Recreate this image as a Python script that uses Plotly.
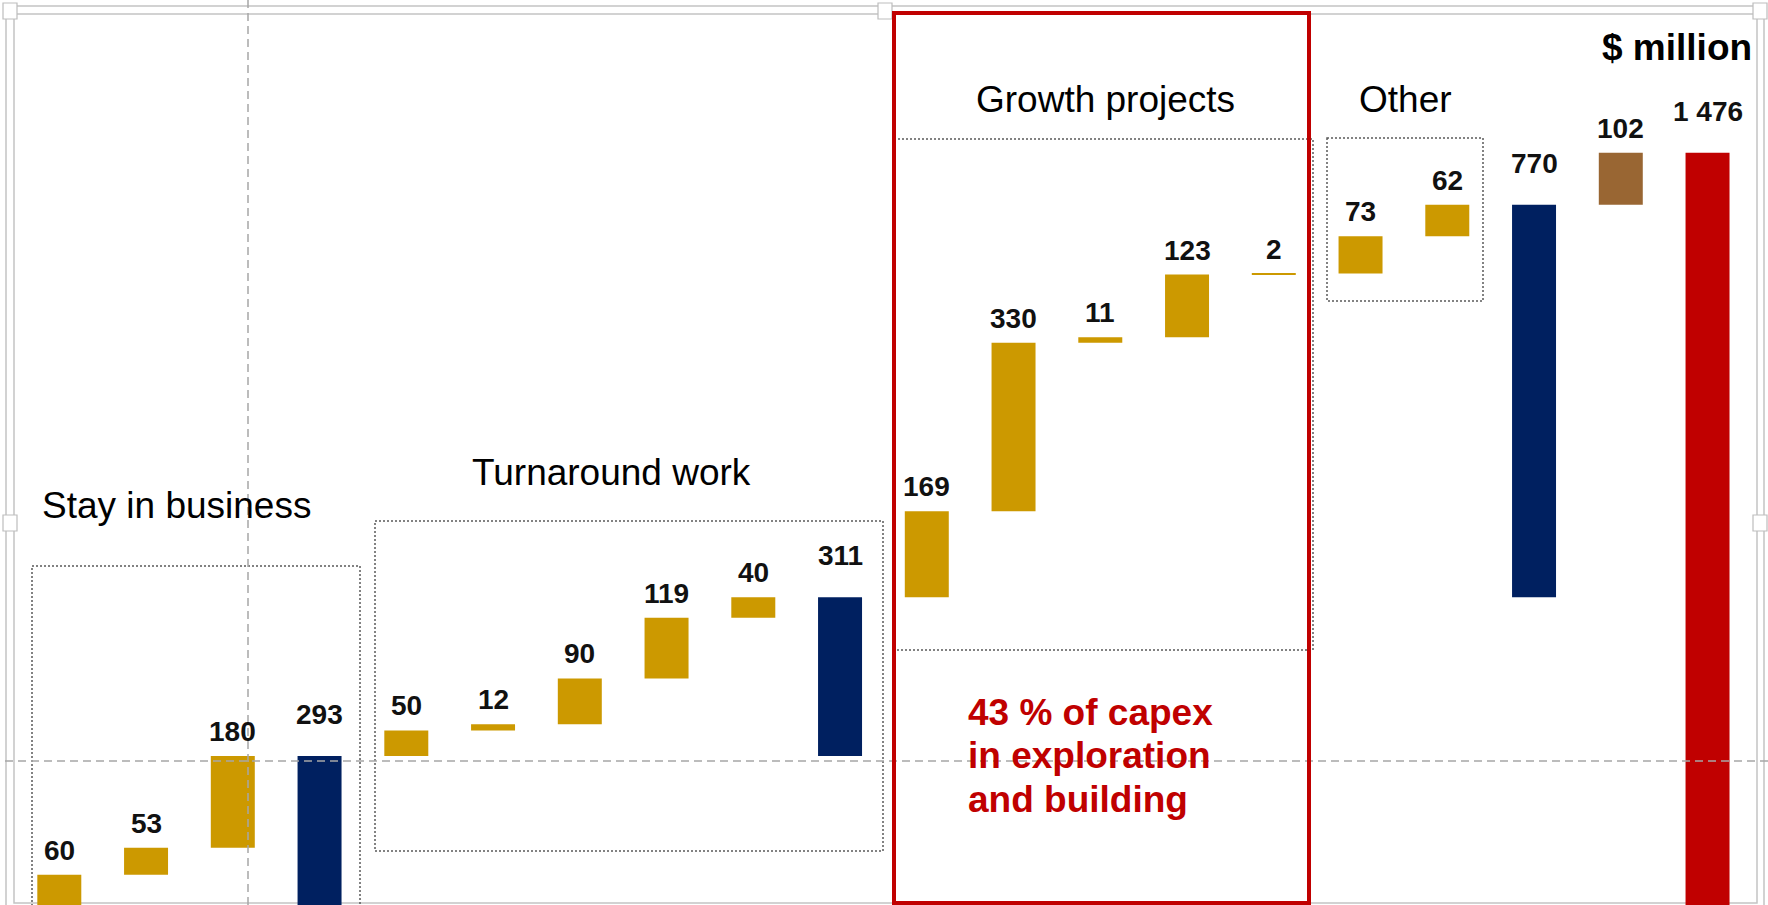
import plotly.graph_objects as go

# Capex breakdown, $ million (waterfall)
values = [60, 53, 180, 293, 50, 12, 90, 119, 40, 311, 169, 330, 11, 123, 2, 73, 62, 770, 102, 1476]
kinds = ["step", "step", "step", "sub",
         "step", "step", "step", "step", "step", "sub",
         "step", "step", "step", "step", "step",
         "step", "step", "sub", "adj", "total"]
group_titles = ["Stay in business", "Turnaround work", "Growth projects", "Other"]
note_lines = ["43 % of capex", "in exploration", "and building"]
unit_label = "$ million"

W, H = 1768, 905
FONT = "Liberation Sans, Arial, sans-serif"
colors = {"step": "#CC9900", "sub": "#002060", "adj": "#996633", "total": "#C00000"}


def fx(px):
    return px / W


def fy(py):
    return 1 - py / H


# floating bases: steps stack up, subtotals span their group, total from zero
bases = []
running = 0
for v, k in zip(values, kinds):
    if k in ("step", "adj"):
        bases.append(running)
        running += v
    elif k == "sub":
        bases.append(running - v)
    else:
        bases.append(0)

x = list(range(len(values)))

fig = go.Figure(go.Bar(
    x=x, y=values, base=bases, width=0.507,
    marker=dict(color=[colors[k] for k in kinds], line=dict(width=0)),
    hoverinfo="skip",
))

# value labels above each bar
for i, (v, b, k) in enumerate(zip(values, bases, kinds)):
    fig.add_annotation(
        x=i, y=b + v, xref="x", yref="y",
        text=f"{v:,}".replace(",", " "),
        showarrow=False, yanchor="bottom",
        yshift=24 if k in ("sub", "total") else 7,
        font=dict(family=FONT, size=28, color="#111111", weight="bold"),
    )

shapes = []

# slide frame (selection border) and handles
for x0, y0, x1, y1 in [(6, 6, 1764, 911), (14, 14, 1757, 903)]:
    shapes.append(dict(type="rect", xref="paper", yref="paper",
                       x0=fx(x0), y0=fy(y0), x1=fx(x1), y1=fy(y1),
                       line=dict(color="#C4C4C4", width=1.5), layer="below"))
for cx, cy in [(10, 11), (885, 11), (1760, 11), (10, 523), (1760, 523)]:
    shapes.append(dict(type="rect", xref="paper", yref="paper",
                       x0=fx(cx - 7), y0=fy(cy - 8), x1=fx(cx + 7), y1=fy(cy + 8),
                       line=dict(color="#BDBDBD", width=1.2), fillcolor="white"))

# group boxes (dotted)
for x0, y0, x1, y1 in [(32, 566, 360, 906), (375, 521, 883, 851),
                       (894, 139, 1313, 650), (1327, 138, 1483, 301)]:
    shapes.append(dict(type="rect", xref="paper", yref="paper",
                       x0=fx(x0), y0=fy(y0), x1=fx(x1), y1=fy(y1),
                       line=dict(color="#595959", width=1.5, dash="2px,2px")))

# guides
guide = dict(color="#A6A6A6", width=1.5, dash="8px,5px")
shapes.append(dict(type="line", xref="paper", yref="paper",
                   x0=fx(248), x1=fx(248), y0=0, y1=1, line=guide))
shapes.append(dict(type="line", xref="paper", yref="paper",
                   x0=fx(5), x1=1, y0=fy(761), y1=fy(761), line=guide))

# red highlight box around growth projects
shapes.append(dict(type="rect", xref="paper", yref="paper",
                   x0=fx(894), y0=fy(13), x1=fx(1309), y1=fy(903),
                   line=dict(color="#C00000", width=4)))

# group titles
title_pos = [(40, 505), (470, 472), (974, 100), (1357, 100)]
for txt, (tx, ty) in zip(group_titles, title_pos):
    fig.add_annotation(x=fx(tx), y=fy(ty), xref="paper", yref="paper",
                       text=txt, showarrow=False, xanchor="left", yanchor="middle",
                       font=dict(family=FONT, size=37, color="black"))

fig.add_annotation(x=fx(1754), y=fy(47), xref="paper", yref="paper",
                   text=unit_label, showarrow=False, xanchor="right", yanchor="middle",
                   font=dict(family=FONT, size=37, color="black", weight="bold"))

for j, line in enumerate(note_lines):
    fig.add_annotation(x=fx(966), y=fy(712 + 43.5 * j), xref="paper", yref="paper",
                       text=line, showarrow=False, xanchor="left", yanchor="middle",
                       font=dict(family=FONT, size=37, color="#C00000", weight="bold"))

fig.update_layout(
    width=W, height=H,
    margin=dict(l=0, r=0, t=0, b=0),
    paper_bgcolor="white", plot_bgcolor="white",
    showlegend=False,
    shapes=shapes,
    xaxis=dict(visible=False, range=[-0.6836, 19.697]),
    yaxis=dict(visible=False, range=[0.6, 1775.4]),
)

fig.write_html("out.html",
               config={"displayModeBar": False},
               post_script="document.body.style.margin='0';document.body.style.overflow='hidden';")
